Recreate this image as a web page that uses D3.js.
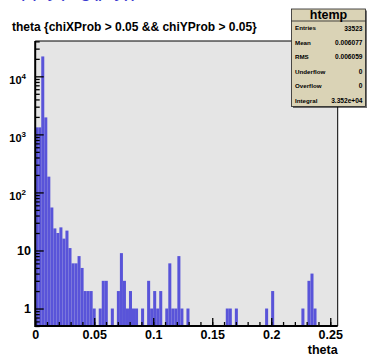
<!DOCTYPE html>
<html>
<head>
<meta charset="utf-8">
<script src="https://cdn.jsdelivr.net/npm/d3@7"></script>
<style>
  html, body { margin: 0; padding: 0; background: #ffffff; }
  svg { display: block; font-family: "Liberation Sans", Arial, Helvetica, sans-serif; font-weight: bold; }
</style>
</head>
<body>
<svg id="chart" width="367" height="356"></svg>
<script>
// Histogram of theta, 100 equal bins starting at 0
const xMin = 0;
const xMax = 0.2563;
const binCounts = [
  1320, 1320, 22000, 1960, 187, 55, 24, 20, 25, 16,
  22, 11, 6, 6, 8, 5, 2, 2, 2, 1,
  0, 1, 3, 3, 0, 1, 0, 2, 9, 3,
  1, 2, 1, 1, 0, 1, 0, 3, 1, 2,
  1, 2, 0, 1, 6, 1, 1, 8, 1, 0,
  1, 0, 0, 0, 0, 0, 0, 0, 0, 0,
  0, 0, 0, 1, 1, 0, 1, 0, 0, 0,
  0, 0, 0, 0, 0, 0, 1, 0, 2, 0,
  0, 0, 0, 0, 0, 0, 0, 0, 1, 0,
  3, 4, 1, 0, 0, 0, 0, 0, 0, 0
];
const yMin = 0.5;
const yMax = 40600;

const xTickValues = [0, 0.05, 0.1, 0.15, 0.2, 0.25];
const xTickLabels = ["0", "0.05", "0.1", "0.15", "0.2", "0.25"];
const yDecades = [1, 10, 100, 1000, 10000];
const yDecadeExponents = ["0", "1", "2", "3", "4"];

const titleText = "theta {chiXProb > 0.05 && chiYProb > 0.05}";
const xAxisTitle = "theta";
const headerText = "apply(ing(pty))";

const statsName = "htemp";
const statLabels = ["Entries", "Mean", "RMS", "Underflow", "Overflow", "Integral"];
const statValues = ["33523", "0.006077", "0.006059", "0", "0", "3.352e+04"];

// ---- layout ----
const frame = { left: 35.2, right: 337.7, top: 41, bottom: 326 };
const svg = d3.select("#chart");

const x = d3.scaleLinear().domain([xMin, xMax]).range([frame.left, frame.right]);
const y = d3.scaleLog().domain([yMin, yMax]).range([frame.bottom, frame.top]);

// page heading above the canvas, scrolled mostly out of view
svg.append("text")
  .attr("x", 10).attr("y", -3)
  .attr("fill", "#3a3ad0")
  .style("font-weight", "normal")
  .style("font-size", "20px")
  .text(headerText);

// frame
svg.append("rect")
  .attr("x", frame.left).attr("y", frame.top)
  .attr("width", frame.right - frame.left).attr("height", frame.bottom - frame.top)
  .attr("fill", "#e5e5e5");

svg.append("defs").append("clipPath").attr("id", "plotclip")
  .append("rect")
  .attr("x", frame.left).attr("y", frame.top)
  .attr("width", frame.right - frame.left).attr("height", frame.bottom - frame.top);

// bars
const nBins = binCounts.length;
const binWidth = (xMax - xMin) / nBins;
const bins = binCounts.map((c, i) => ({ lo: xMin + i * binWidth, hi: xMin + (i + 1) * binWidth, c }))
  .filter(d => d.c > 0);

svg.append("g").attr("clip-path", "url(#plotclip)")
  .selectAll("rect").data(bins).join("rect")
  .attr("x", d => x(d.lo))
  .attr("width", d => x(d.hi) - x(d.lo))
  .attr("y", d => y(d.c))
  .attr("height", d => frame.bottom - y(d.c))
  .attr("fill", "#5954d9");

// frame border (top and right)
svg.append("path")
  .attr("d", `M${frame.left},${frame.top}H${frame.right}V${frame.bottom}`)
  .attr("fill", "none").attr("stroke", "#000").attr("stroke-width", 1);

// x axis: major ticks with labels, minor ticks every 0.01
const minorX = d3.range(0, 26).map(k => k * 0.01).filter(v => v <= xMax);
svg.append("g")
  .attr("transform", `translate(0,${frame.bottom})`)
  .call(d3.axisBottom(x).tickValues(minorX).tickSize(-4).tickFormat(""))
  .call(g => g.select(".domain").remove())
  .call(g => g.selectAll("line").attr("stroke-width", 1.3));

const xAxisG = svg.append("g")
  .attr("transform", `translate(0,${frame.bottom})`)
  .call(d3.axisBottom(x).tickValues(xTickValues).tickSize(-8).tickPadding(4)
    .tickFormat((d, i) => xTickLabels[i]));
xAxisG.select(".domain").remove();
xAxisG.selectAll("line").attr("stroke-width", 1.3);
xAxisG.selectAll("text")
  .style("font-size", "12.5px").style("font-weight", "bold")
  .style("font-family", "'Liberation Sans', Arial, sans-serif").attr("fill", "#000");

// y axis: decade ticks and 2..9 minor ticks
const minorY = [];
for (let e = -1; e <= 4; e++) {
  for (let m = 2; m <= 9; m++) {
    const v = m * Math.pow(10, e);
    if (v >= yMin && v <= yMax) minorY.push(v);
  }
}
svg.append("g")
  .attr("transform", `translate(${frame.left},0)`)
  .call(d3.axisLeft(y).tickValues(minorY).tickSize(-4.5).tickFormat(""))
  .call(g => g.select(".domain").remove())
  .call(g => g.selectAll("line").attr("stroke-width", 1.3));
svg.append("g")
  .attr("transform", `translate(${frame.left},0)`)
  .call(d3.axisLeft(y).tickValues(yDecades).tickSize(-8.5).tickFormat(""))
  .call(g => g.select(".domain").remove())
  .call(g => g.selectAll("line").attr("stroke-width", 1.3));

// axis lines
svg.append("line")
  .attr("x1", frame.left).attr("x2", frame.right)
  .attr("y1", frame.bottom).attr("y2", frame.bottom)
  .attr("stroke", "#000").attr("stroke-width", 2);
svg.append("line")
  .attr("x1", frame.left).attr("x2", frame.left)
  .attr("y1", frame.top).attr("y2", frame.bottom + 1)
  .attr("stroke", "#000").attr("stroke-width", 2);

// y labels: plain for 1 and 10, power notation above
const yLab = svg.append("g");
yDecades.forEach((v, i) => {
  if (v < 100) {
    yLab.append("text")
      .attr("x", 31).attr("y", y(v)).attr("dy", "0.36em")
      .attr("text-anchor", "end")
      .style("font-size", "12.5px")
      .text(String(v));
  } else {
    const t = yLab.append("text")
      .attr("x", 26).attr("y", y(v) + 7.5)
      .attr("text-anchor", "end")
      .style("font-size", "11px");
    t.append("tspan").text("10");
    t.append("tspan").attr("dy", -5).style("font-size", "8px").text(yDecadeExponents[i]);
  }
});

// axis title
svg.append("text")
  .attr("x", frame.right).attr("y", 353.5)
  .attr("text-anchor", "end")
  .style("font-size", "12.5px")
  .text(xAxisTitle);

// histogram title
svg.append("text")
  .attr("x", 12).attr("y", 30.5)
  .style("font-size", "12px")
  .text(titleText);

// statistics box
const box = { left: 291.5, right: 365.5, top: 9, bottom: 106.5 };
svg.append("rect")
  .attr("x", box.left + 1.5).attr("y", box.top + 1.5)
  .attr("width", box.right - box.left).attr("height", box.bottom - box.top)
  .attr("fill", "#000").attr("opacity", 0.55);
svg.append("rect")
  .attr("x", box.left).attr("y", box.top)
  .attr("width", box.right - box.left).attr("height", box.bottom - box.top)
  .attr("fill", "#dad3b6").attr("stroke", "#222").attr("stroke-width", 0.8);
svg.append("line")
  .attr("x1", box.left).attr("x2", box.right)
  .attr("y1", 21).attr("y2", 21)
  .attr("stroke", "#222").attr("stroke-width", 0.8);
svg.append("text")
  .attr("x", (box.left + box.right) / 2).attr("y", 18.5)
  .attr("text-anchor", "middle")
  .style("font-size", "12.5px")
  .text(statsName);

const rowY = d3.scalePoint().domain(statLabels).range([28.3, 100.5]);
const rows = svg.append("g").selectAll("g").data(statLabels).join("g");
rows.append("text")
  .attr("x", box.left + 3.5).attr("y", d => rowY(d)).attr("dy", "0.35em")
  .style("font-size", "6.2px")
  .text(d => d);
rows.append("text")
  .attr("x", box.right - 3).attr("y", d => rowY(d)).attr("dy", "0.35em")
  .attr("text-anchor", "end")
  .style("font-size", "6.6px")
  .text((d, i) => statValues[i]);
</script>
</body>
</html>
